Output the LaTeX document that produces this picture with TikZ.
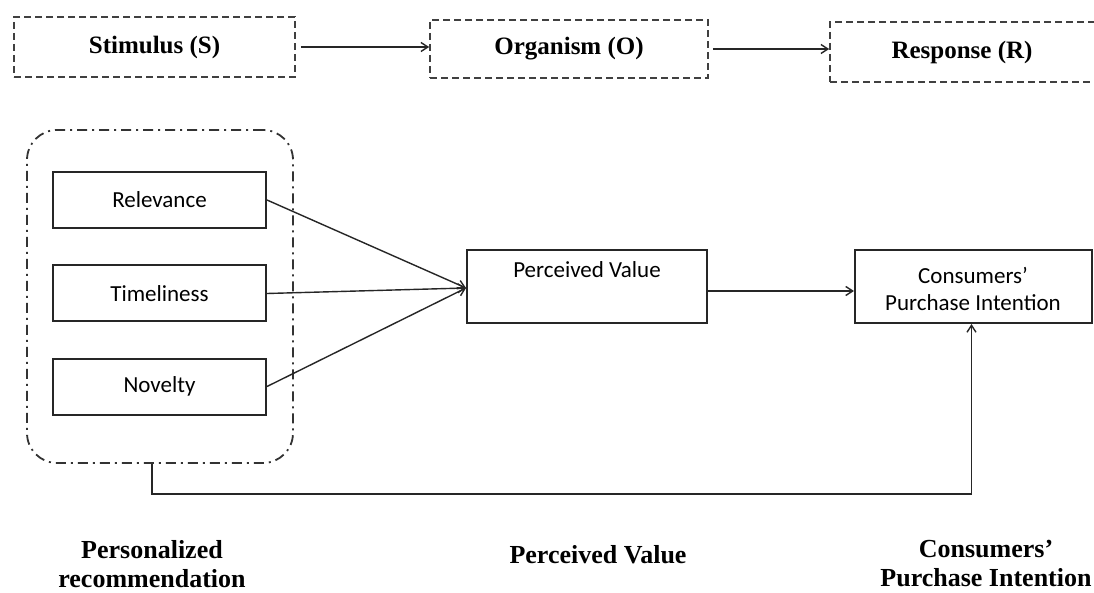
\documentclass[tikz,border=0pt]{standalone}
\usepackage{fontspec}
\setmainfont{Liberation Serif}
\newfontfamily\boxfont{Carlito}
\usetikzlibrary{arrows.meta}
\begin{document}
\begin{tikzpicture}[x=1pt,y=-1pt,
  srobox/.style={draw=black!75, line width=1.6pt, dash pattern=on 7pt off 4pt,
    minimum width=#1, minimum height=60pt, inner sep=0pt,
    font=\fontsize{25}{28}\selectfont\bfseries},
  itembox/.style={draw=black!85, line width=2pt, minimum width=213pt, minimum height=56pt,
    inner sep=0pt, font=\boxfont\fontsize{23}{26}\selectfont},
  bigbox/.style={draw=black!85, line width=2pt, inner sep=0pt},
  grpbox/.style={draw=black!80, line width=1.8pt, rounded corners=30pt,
    dash pattern=on 10pt off 5pt on 2pt off 5pt, inner sep=0pt},
  conn/.style={draw=black!85, line width=1.4pt, -{Straight Barb[length=7pt,width=9pt,line width=1.4pt]}},
  lbl/.style={font=\fontsize{26}{29}\selectfont\bfseries, align=center, inner sep=0pt},
  txt/.style={font=\boxfont\fontsize{23}{26}\selectfont, align=center, inner sep=0pt}]
\clip (0,0) rectangle (1094,593);
\fill[white] (0,0) rectangle (1094,593);

% top S-O-R boxes
\node[srobox=281pt] (S) at (154.5,47) {Stimulus (S)};
\node[srobox=278pt, minimum height=58pt] (O) at (569,49) {Organism (O)};
\node[srobox=284pt] (Rbox) at (972,52) {};
\node[font=\fontsize{25}{28}\selectfont\bfseries, inner sep=0pt] (R) at (962,52) {Response (R)};
\draw[conn] (S.east) ++(5,0) coordinate (s1) -- (O.west |- s1);
\draw[conn] (O.east) ++(4,0) coordinate (o1) -- (Rbox.west |- o1);

% group box
\node[grpbox, minimum width=266pt, minimum height=333pt] (grp) at (160,296.5) {};
\node[itembox] (rel) at (159.5,200) {Relevance};
\node[itembox] (tim) at (159.5,293.5) {Timeliness};
\node[itembox] (nov) at (159.5,386.5) {Novelty};

% perceived value
\node[bigbox, minimum width=240pt, minimum height=73pt] (pv) at (587,286.5) {};
\node[txt] (pvt) at (587,270) {Perceived Value};
\coordinate (pvin) at (pv.west |- 0,288);
\draw[conn] (rel.east) -- (pvin);
\draw[conn] (tim.east) -- (pvin);
\draw[conn] (nov.east) -- (pvin);

% purchase intention
\node[bigbox, minimum width=237pt, minimum height=73pt] (cpi) at (973.5,286.5) {};
\node[txt] (cpit) at (973,289) {Consumers’\\[1pt]Purchase Intention};
\draw[conn] (pv.east |- 0,291) -- (cpi.west |- 0,291);

% direct path
\coordinate (gb) at ([xshift=-8pt]grp.south);
\coordinate (bc) at (gb |- 0,494);
\draw[conn] (gb) -- (bc) -| ([xshift=-2pt]cpi.south);

% bottom labels
\node[lbl] (l1) at (152,564) {Personalized\\recommendation};
\node[lbl] (l2) at (598,555) {Perceived Value};
\node[lbl] (l3) at (986,564) {Consumers’\\Purchase Intention};
\end{tikzpicture}
\end{document}
